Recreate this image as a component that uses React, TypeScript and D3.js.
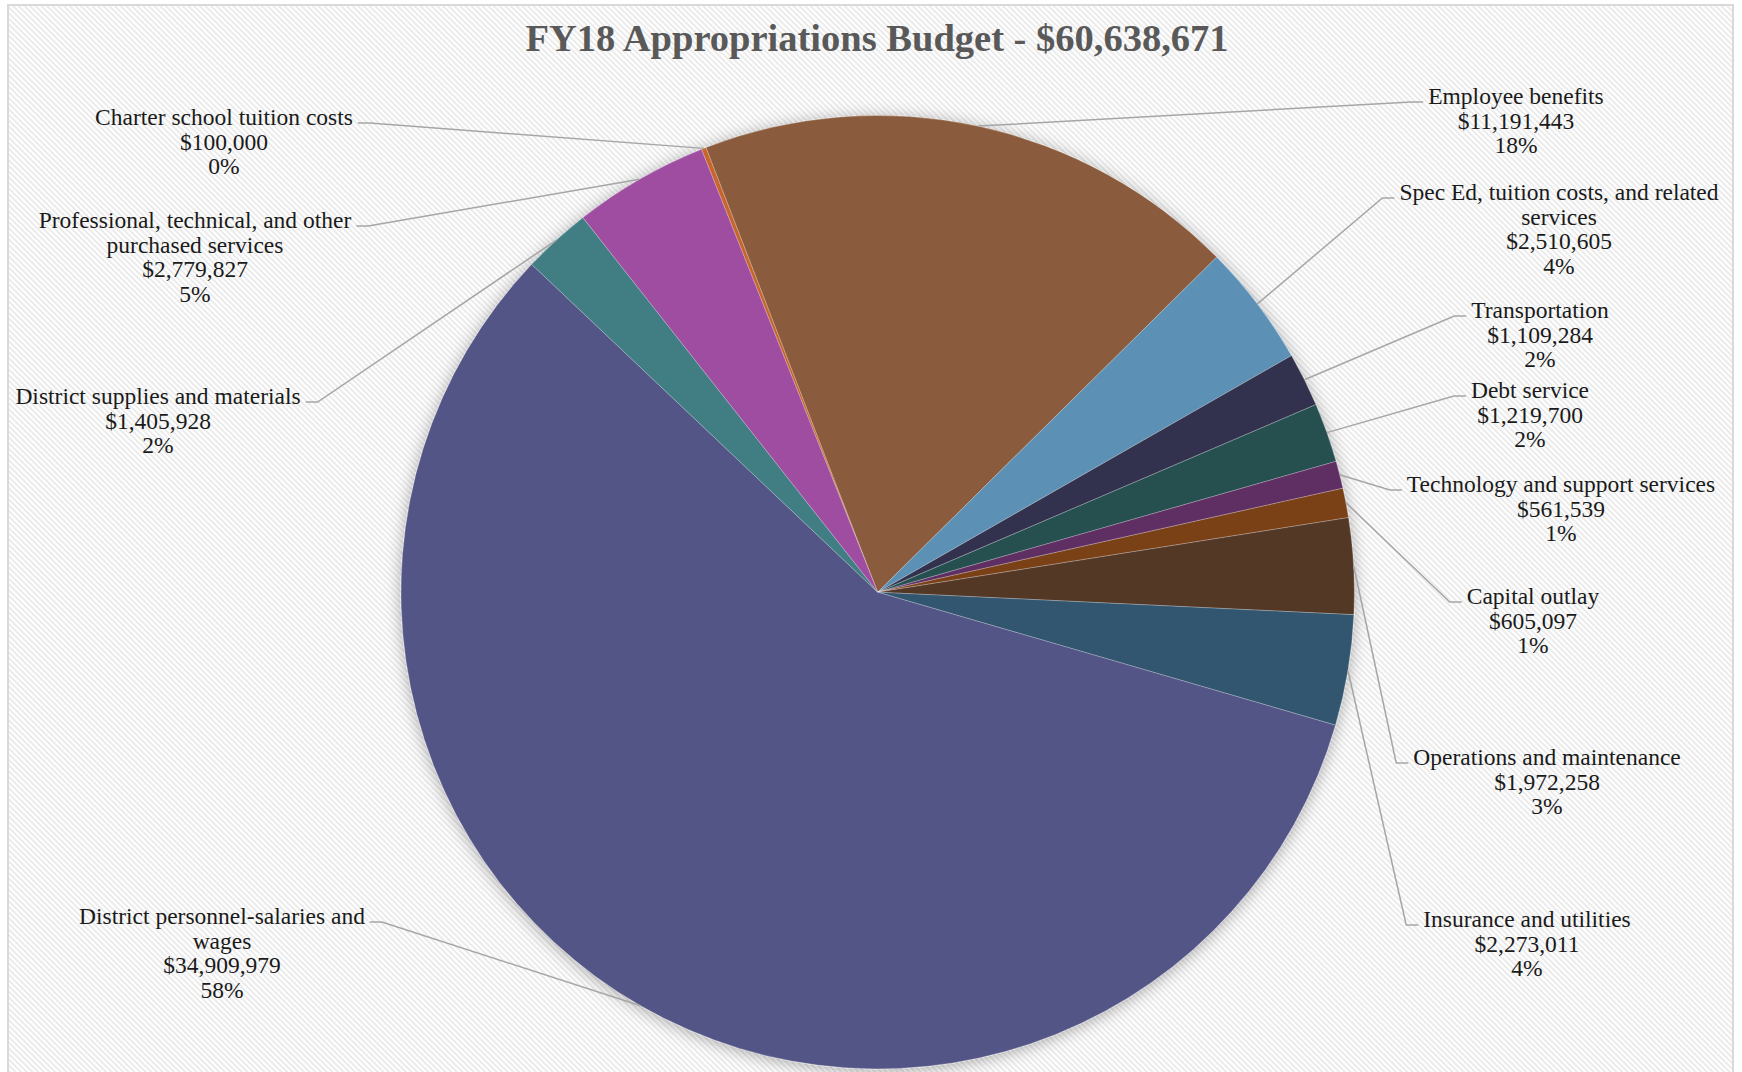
import React, { useEffect, useRef } from "react";
import * as d3 from "d3";

const title = "FY18 Appropriations Budget - $60,638,671";

const categories = [
  "Charter school tuition costs",
  "Employee benefits",
  "Spec Ed, tuition costs, and related services",
  "Transportation",
  "Debt service",
  "Technology and support services",
  "Capital outlay",
  "Operations and maintenance",
  "Insurance and utilities",
  "District personnel-salaries and wages",
  "District supplies and materials",
  "Professional, technical, and other purchased services",
];

const values = [
  100000, 11191443, 2510605, 1109284, 1219700, 561539, 605097, 1972258,
  2273011, 34909979, 1405928, 2779827,
];

const colors = [
  "#C7652A", "#8A5B3C", "#5B91B5", "#333350", "#264F50", "#5E2D62",
  "#7A3F18", "#523727", "#30566F", "#535487", "#3F7E83", "#9E4DA1",
];

// label placement (layout only)
const labelLayout = [
  { x: 224, y: 125, side: "left" },
  { x: 1516, y: 104, side: "right" },
  { x: 1559, y: 200, side: "right" },
  { x: 1540, y: 318, side: "right" },
  { x: 1530, y: 398, side: "right" },
  { x: 1561, y: 492, side: "right" },
  { x: 1533, y: 604, side: "right" },
  { x: 1547, y: 765, side: "right" },
  { x: 1527, y: 927, side: "right" },
  { x: 222, y: 924, side: "left" },
  { x: 158, y: 404, side: "left" },
  { x: 195, y: 228, side: "left" },
];

const W = 1742;
const H = 1072;
const cx = 877.7;
const cy = 592.2;
const R = 476.7;
const startDeg = -21.7;
const FONT = "'Liberation Serif', 'Times New Roman', serif";
const FS = 23.5;
const LH = 24.5;
const WRAP = 332;

export default function App() {
  const ref = useRef<SVGSVGElement>(null);

  useEffect(() => {
    const svg = d3.select(ref.current);
    svg.selectAll("*").remove();
    const defs = svg.append("defs");
    const pat = defs
      .append("pattern")
      .attr("id", "stripes")
      .attr("width", 4)
      .attr("height", 4)
      .attr("patternUnits", "userSpaceOnUse")
      .attr("patternTransform", "rotate(-45)");
    pat.append("rect").attr("width", 4).attr("height", 4).attr("fill", "#ffffff");
    pat.append("rect").attr("width", 2).attr("height", 4).attr("fill", "#ebebeb");

    const filt = defs
      .append("filter")
      .attr("id", "pieShadow")
      .attr("x", "-10%")
      .attr("y", "-10%")
      .attr("width", "120%")
      .attr("height", "120%");
    filt
      .append("feDropShadow")
      .attr("dx", 0)
      .attr("dy", 2)
      .attr("stdDeviation", 8)
      .attr("flood-color", "#000")
      .attr("flood-opacity", 0.32);

    svg.append("rect").attr("width", W).attr("height", H).attr("fill", "#fff");
    svg
      .append("rect")
      .attr("x", 8)
      .attr("y", 5)
      .attr("width", 1725)
      .attr("height", H + 20)
      .attr("fill", "url(#stripes)")
      .attr("stroke", "#d9d9d9")
      .attr("stroke-width", 2);

    svg
      .append("text")
      .attr("x", 877)
      .attr("y", 51)
      .attr("text-anchor", "middle")
      .attr("font-family", FONT)
      .attr("font-weight", "bold")
      .attr("font-size", 38.5)
      .attr("fill", "#595959")
      .text(title);

    const total = d3.sum(values);
    const start = (startDeg * Math.PI) / 180;
    const pie = d3
      .pie<number>()
      .value((d) => d)
      .sort(null)
      .startAngle(start)
      .endAngle(start + 2 * Math.PI);
    const arcs = pie(values);
    const arc = d3.arc<d3.PieArcDatum<number>>().innerRadius(0).outerRadius(R);

    const g = svg
      .append("g")
      .attr("transform", `translate(${cx},${cy})`)
      .attr("filter", "url(#pieShadow)");
    g.selectAll("path")
      .data(arcs)
      .join("path")
      .attr("d", arc as any)
      .attr("fill", (_, i) => colors[i])
      .attr("stroke", "rgba(255,255,255,0.35)")
      .attr("stroke-width", 0.7);

    const labels = svg.append("g");
    const leaders = svg.append("g");
    const fmt = d3.format("$,");

    arcs.forEach((a, i) => {
      const lay = labelLayout[i];
      const t = labels
        .append("text")
        .attr("font-family", FONT)
        .attr("font-size", FS)
        .attr("fill", "#1a1a1a")
        .attr("text-anchor", "middle");
      const words = categories[i].split(" ");
      const lines: string[] = [];
      let cur = "";
      const probe = labels
        .append("text")
        .attr("font-family", FONT)
        .attr("font-size", FS);
      words.forEach((w) => {
        const test = cur ? cur + " " + w : w;
        probe.text(test);
        const len = (probe.node() as SVGTextElement).getComputedTextLength();
        if (len > WRAP && cur) {
          lines.push(cur);
          cur = w;
        } else cur = test;
      });
      lines.push(cur);
      probe.remove();
      lines.push(fmt(values[i]));
      lines.push(Math.round((values[i] / total) * 100) + "%");
      let firstW = 0;
      lines.forEach((ln, k) => {
        const ts = t
          .append("tspan")
          .attr("x", lay.x)
          .attr("y", lay.y + k * LH)
          .text(ln);
        if (k === 0) firstW = (ts.node() as SVGTSpanElement).getComputedTextLength();
      });

      const mid = (a.startAngle + a.endAngle) / 2;
      const ex = cx + R * Math.sin(mid);
      const ey = cy - R * Math.cos(mid);
      const ly = lay.y - 2;
      let p1: number, p2: number;
      if (lay.side === "left") {
        p1 = lay.x + firstW / 2 + 5;
        p2 = p1 + 12;
      } else {
        p1 = lay.x - firstW / 2 - 5;
        p2 = p1 - 12;
      }
      leaders
        .append("polyline")
        .attr("points", `${p1},${ly} ${p2},${ly} ${ex},${ey}`)
        .attr("fill", "none")
        .attr("stroke", "#a6a6a6")
        .attr("stroke-width", 1.5);
    });
  }, []);

  return (
    <svg
      ref={ref}
      width={W}
      height={H}
      style={{ position: "absolute", left: 0, top: 0 }}
    />
  );
}
